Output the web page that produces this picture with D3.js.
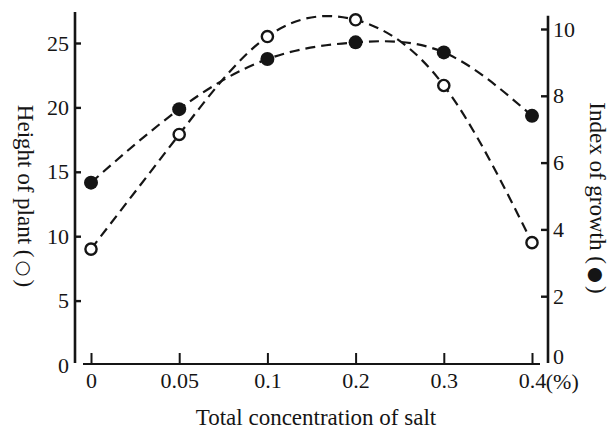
<!DOCTYPE html>
<html>
<head>
<meta charset="utf-8">
<script src="https://cdn.jsdelivr.net/npm/d3@7"></script>
<style>
  html, body { margin: 0; padding: 0; background: #fff; }
  svg { display: block; }
  text { font-family: "Liberation Serif", "Times New Roman", serif; fill: #151515; }
</style>
</head>
<body>
<svg id="chart" width="612" height="431"></svg>
<script>
// ---- data ----
const categories = ["0", "0.05", "0.1", "0.2", "0.3", "0.4"];
const heightOfPlant = [9.0, 17.9, 25.5, 26.8, 21.7, 9.5];   // open circles, left axis
const indexOfGrowth = [5.4, 7.6, 9.1, 9.6, 9.3, 7.4];       // filled circles, right axis
const leftTicks = [0, 5, 10, 15, 20, 25];
const rightTicks = [0, 2, 4, 6, 8, 10];
const xTitle = "Total concentration of salt";
const leftTitle = "Height of plant (";
const leftSymbol = "\u25CB";
const rightTitle = "Index of growth (";
const rightSymbol = "\u25CF";
const xUnit = "(%)";

const svg = d3.select("#chart");
const ink = "#151515";
const fontSize = 22;
const titleSize = 23;

// ---- scales ----
const x = d3.scalePoint().domain(categories).range([91, 532]);
const yL = d3.scaleLinear().domain([0, 25]).range([365, 43]);
const yR = d3.scaleLinear().domain([0, 10]).range([363, 29]);

// ---- axes lines ----
svg.append("line").attr("x1", 75).attr("x2", 75)
  .attr("y1", yL(0) - 2).attr("y2", yL(27.4))
  .attr("stroke", ink).attr("stroke-width", 2.6);
svg.append("line").attr("x1", 548).attr("x2", 548)
  .attr("y1", yR(0)).attr("y2", yR(10.4))
  .attr("stroke", ink).attr("stroke-width", 2.6);
svg.append("line").attr("x1", 83).attr("x2", 540)
  .attr("y1", 364).attr("y2", 364)
  .attr("stroke", ink).attr("stroke-width", 2.2);

// ---- left axis ----
const gL = svg.append("g").attr("transform", "translate(75,0)")
  .call(d3.axisLeft(yL).tickValues(leftTicks).tickSizeInner(-6).tickSizeOuter(0).tickPadding(6));
gL.select(".domain").remove();
gL.selectAll(".tick line").attr("stroke", ink).attr("stroke-width", 2.4)
  .attr("display", d => d === 0 ? "none" : null);
gL.selectAll(".tick text").attr("font-size", fontSize).attr("fill", ink)
  .attr("font-family", "Liberation Serif");

// ---- right axis ----
const gR = svg.append("g").attr("transform", "translate(548,0)")
  .call(d3.axisRight(yR).tickValues(rightTicks).tickSizeInner(-7).tickSizeOuter(0).tickPadding(5));
gR.select(".domain").remove();
gR.selectAll(".tick line").attr("stroke", ink).attr("stroke-width", 2.4)
  .attr("display", d => d === 0 ? "none" : null);
gR.selectAll(".tick text").attr("font-size", fontSize).attr("fill", ink)
  .attr("font-family", "Liberation Serif");
gR.selectAll(".tick").filter(d => d === 0).select("text").attr("dy", "0.02em");

// ---- bottom axis ----
const gX = svg.append("g").attr("transform", "translate(0,364)")
  .call(d3.axisBottom(x).tickSizeInner(-11).tickSizeOuter(0).tickPadding(8));
gX.select(".domain").remove();
gX.selectAll(".tick line").attr("stroke", ink).attr("stroke-width", 2);
gX.selectAll(".tick text").attr("font-size", fontSize).attr("fill", ink)
  .attr("font-family", "Liberation Serif");
// unit after last tick label
const lastText = gX.selectAll(".tick text").filter(d => d === categories[categories.length - 1]);
const lastW = lastText.node().getComputedTextLength();
gX.append("text")
  .attr("x", x(categories[categories.length - 1]) + lastW / 2)
  .attr("y", 9).attr("dy", "0.71em")
  .attr("font-size", fontSize).attr("fill", ink)
  .attr("text-anchor", "start")
  .text(xUnit);

// ---- titles ----
svg.append("text").attr("x", 316).attr("y", 425)
  .attr("text-anchor", "middle").attr("font-size", titleSize).text(xTitle);

function vTitle(tx, ty, label, symbol) {
  const t = svg.append("text").attr("transform", `translate(${tx},${ty}) rotate(90)`)
    .attr("text-anchor", "middle").attr("font-size", titleSize);
  t.append("tspan").text(label);
  t.append("tspan").attr("font-family", "DejaVu Sans").attr("font-weight", "bold")
    .attr("font-size", titleSize * 0.8).attr("dx", 3).text(symbol);
  t.append("tspan").attr("dx", 3).text(")");
}
vTitle(18, 196, leftTitle, leftSymbol);
vTitle(590, 198, rightTitle, rightSymbol);

// ---- curves ----
const lineL = d3.line().x((d, i) => x(categories[i])).y(d => yL(d)).curve(d3.curveNatural);
const lineR = d3.line().x((d, i) => x(categories[i])).y(d => yR(d)).curve(d3.curveNatural);

svg.append("path").attr("d", lineR(indexOfGrowth))
  .attr("fill", "none").attr("stroke", ink).attr("stroke-width", 2.2)
  .attr("stroke-dasharray", "10,6");
svg.append("path").attr("d", lineL(heightOfPlant))
  .attr("fill", "none").attr("stroke", ink).attr("stroke-width", 2.2)
  .attr("stroke-dasharray", "10,6");

// ---- markers ----
svg.selectAll("circle.filled").data(indexOfGrowth).join("circle")
  .attr("class", "filled")
  .attr("cx", (d, i) => x(categories[i])).attr("cy", d => yR(d))
  .attr("r", 7).attr("fill", ink);
svg.selectAll("circle.open").data(heightOfPlant).join("circle")
  .attr("class", "open")
  .attr("cx", (d, i) => x(categories[i])).attr("cy", d => yL(d))
  .attr("r", 5.6).attr("fill", "#fff").attr("stroke", ink).attr("stroke-width", 2.4);
</script>
</body>
</html>
